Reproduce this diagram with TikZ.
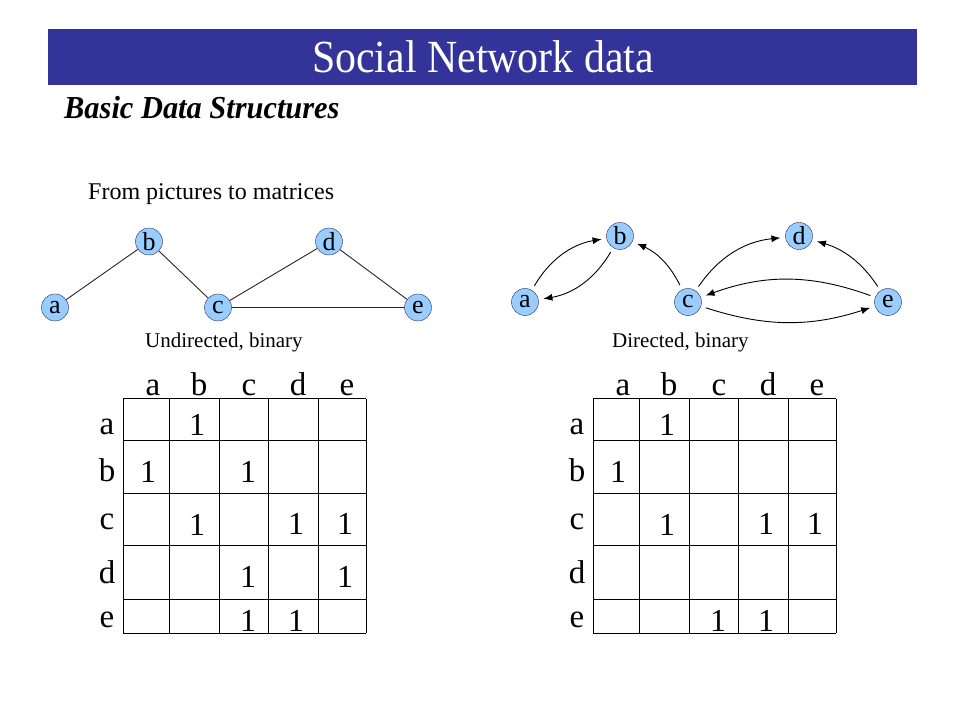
\documentclass[tikz,border=0pt]{standalone}
\usepackage{fontspec}
\setmainfont{Liberation Serif}
\usetikzlibrary{automata}
\usetikzlibrary{positioning}
\usetikzlibrary{arrows.meta}
\definecolor{titleblue}{RGB}{51,51,153}
\definecolor{nodeblue}{RGB}{153,204,255}
\definecolor{nodeline}{RGB}{40,40,90}
\newcommand{\fsz}[1]{\fontsize{#1}{#1}\selectfont}
\tikzset{node distance=100pt, on grid, % Nodes are placed centre to centre.
every state/.style={ % Sets the properties for each vertex
thin, draw=nodeline,
fill=nodeblue,
minimum size=27pt, inner sep=0pt,
font=\fsz{26}},
every edge/.style={ % Sets the properties for each directed tie
draw,
->,>={Latex[length=9pt,width=7pt]}, % Filled arrow heads
shorten >=5pt, shorten <=5pt,
line width=0.9pt},
txt/.style={inner sep=0pt, anchor=base west},
gridline/.style={line width=1pt},
rowlabel/.style={inner sep=0pt, anchor=base, font=\fsz{33}},
entry/.style={inner sep=0pt, anchor=base, font=\fsz{32}}}

\begin{document}
\begin{tikzpicture}[x=1pt,y=1pt]
                \useasboundingbox (0,0) rectangle (960,720);
                \fill[titleblue] (48,691) rectangle (917,635);
                \node[inner sep=0pt, anchor=base, text=white, font=\fsz{46}] (title) at (483,647) {\scalebox{0.91}[1]{Social Network data}};
                \node[txt, font=\fsz{32}\bfseries\itshape] (subtitle) at (64,601) {\scalebox{0.95}[1]{Basic Data Structures}};
                \node[txt, font=\fsz{24}] (intro) at (88,520) {From pictures to matrices};
                \node[txt, font=\fsz{21}] (undir) at (145,372) {Undirected, binary};
                \node[txt, font=\fsz{21}] (dir) at (612,372) {Directed, binary};

                % undirected graph
                \node[state] (ua) at (55,412.5) {a};
                \node[state, above right = 66pt and 94pt of ua] (ub) {b};
                \node[state, right = 163pt of ua] (uc) {c};
                \node[state, above right = 66pt and 111pt of uc] (ud) {d};
                \node[state, right = 200pt of uc] (ue) {e};
                \draw[line width=0.9pt, black!85] (ua) -- (ub) -- (uc) -- (ud) -- (ue) -- (uc);

                % directed graph
                \node[state] (da) at (525,418) {a};
                \node[state, above right = 66pt and 95pt of da] (db) {b};
                \node[state, right = 163pt of da] (dc) {c};
                \node[state, above right = 66pt and 111pt of dc] (dd) {d};
                \node[state, right = 200pt of dc] (de) {e};
                \draw (da) edge[bend left=25] (db)
                (db) edge[bend left=25] (da)
                (dc) edge[bend right=20] (db)
                (dc) edge[bend left=25] (dd)
                (de) edge[bend right=20] (dd)
                (de) edge[bend right=20] (dc)
                (dc) edge[bend right=18] (de);

                % both matrices
                \foreach \ox/\m in {0/u,470/d} {
                    \foreach \x in {123,169,219,268,318,366}
                        \draw[gridline] (\x+\ox,321) -- (\x+\ox,87);
                    \foreach \y in {321,279,226,174,121,87}
                        \draw[gridline] (123+\ox,\y) -- (366+\ox,\y);
                    \foreach \l/\x in {a/153,b/199,c/249,d/298,e/347}
                        \node[rowlabel] (\m col\l) at (\x+\ox,324) {\l};
                    \foreach \l/\y in {a/285,b/238,c/190,d/137,e/93}
                        \node[rowlabel] (\m row\l) at (107+\ox,\y) {\l};
                }
                \foreach \x/\y [count=\i] in {197/284,148/237,248/237,197/184,296/185,345/185,248/132,345/132,248/89,296/89}
                    \node[entry] (u\i) at (\x,\y) {1};
                \foreach \x/\y [count=\i] in {667/284,618/237,667/184,766/185,815/185,718/89,766/89}
                    \node[entry] (d\i) at (\x,\y) {1};

            \end{tikzpicture}
\end{document}
